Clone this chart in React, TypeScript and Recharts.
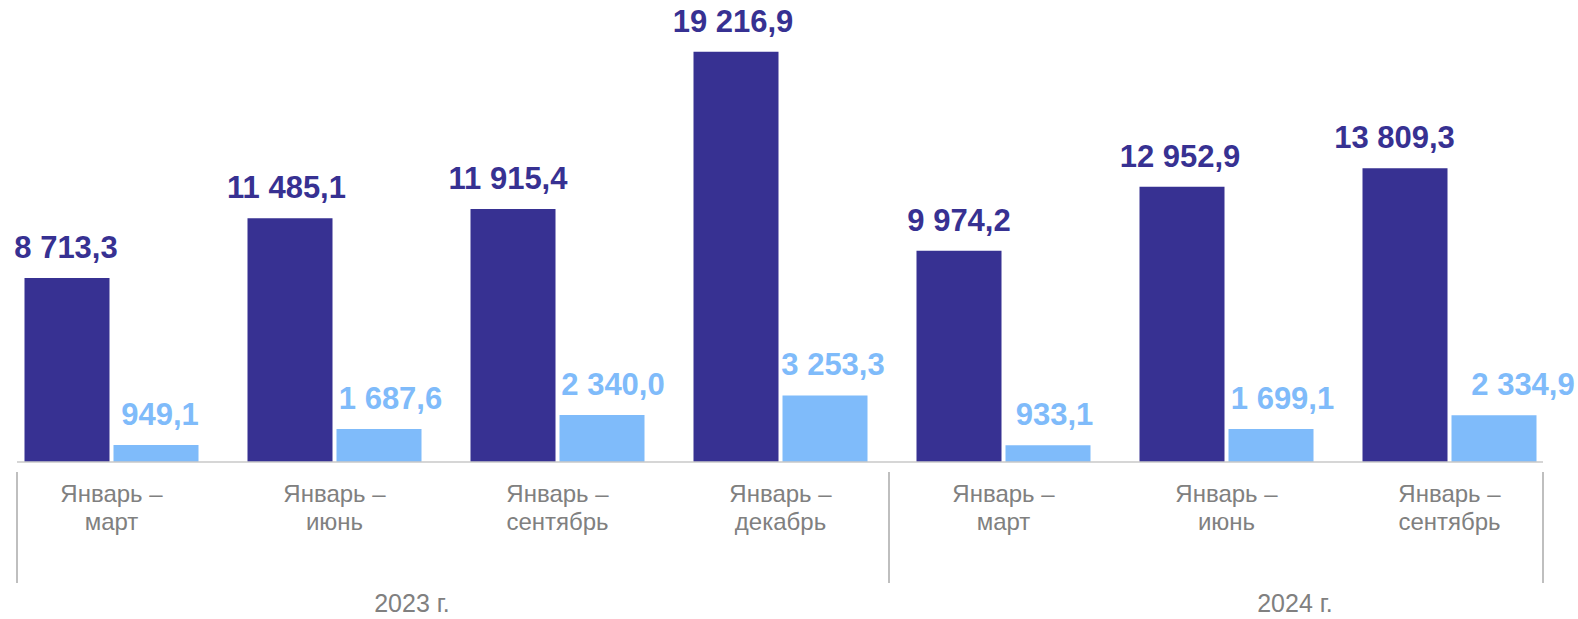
import React from "react";
import { BarChart, Bar, XAxis, YAxis, LabelList } from "recharts";

const periods = [
  "Январь – март",
  "Январь – июнь",
  "Январь – сентябрь",
  "Январь – декабрь",
  "Январь – март",
  "Январь – июнь",
  "Январь – сентябрь",
];
const totalValues = [8713.3, 11485.1, 11915.4, 19216.9, 9974.2, 12952.9, 13809.3];
const partValues = [949.1, 1687.6, 2340.0, 3253.3, 933.1, 1699.1, 2334.9];
const years = ["2023 г.", "2024 г."];

// label nudges (px) seen in the picture, labels were hand-placed
const totalNudge = [-1, -3.5, -5, -3, 0, -2, -10.5];
const partNudge = [4, 11.5, 11, 8, 6.5, 11.5, 29];

const DARK = "#373192";
const LIGHT = "#7fbbfa";
const GREY = "#808080";
const FONT = "'Liberation Sans', Arial, sans-serif";

const data = periods.map((p, i) => ({
  period: p,
  total: totalValues[i],
  part: partValues[i],
}));

const fmt = (v: number) => {
  const [int, dec] = v.toFixed(1).split(".");
  return int.replace(/\B(?=(\d{3})+(?!\d))/g, " ") + "," + dec;
};

const makeLabel = (color: string, nudge: number[]) => (props: any) => {
  const { x, y, width, value, index } = props;
  return (
    <text
      x={Number(x) + Number(width) / 2 + (nudge[index] || 0)}
      y={Number(y) - 20}
      textAnchor="middle"
      fill={color}
      fontFamily={FONT}
      fontWeight="bold"
      fontSize={31}
    >
      {fmt(Number(value))}
    </text>
  );
};

const PeriodTick = (props: any) => {
  const { x, y, payload } = props;
  const [a, b] = String(payload.value).split(" – ");
  return (
    <g>
      <text x={x} y={y + 40} textAnchor="middle" fill={GREY} fontFamily={FONT} fontSize={24}>
        {a + " –"}
      </text>
      <text x={x} y={y + 67.5} textAnchor="middle" fill={GREY} fontFamily={FONT} fontSize={24}>
        {b}
      </text>
    </g>
  );
};

export default function App() {
  return (
    <div style={{ position: "absolute", left: 0, top: 0, width: 1578, height: 619, background: "#fff" }}>
      <BarChart
        width={1578}
        height={619}
        data={data}
        margin={{ top: 35, right: 17, bottom: 0, left: 0 }}
        barCategoryGap={24.5}
        barGap={4}
      >
        <XAxis
          dataKey="period"
          axisLine={false}
          tickLine={false}
          tickSize={0}
          tickMargin={0}
          height={157}
          interval={0}
          tick={<PeriodTick />}
        />
        <YAxis hide domain={[160, 20000]} allowDataOverflow />
        <Bar dataKey="total" fill={DARK} isAnimationActive={false}>
          <LabelList dataKey="total" content={makeLabel(DARK, totalNudge)} />
        </Bar>
        <Bar dataKey="part" fill={LIGHT} isAnimationActive={false}>
          <LabelList dataKey="part" content={makeLabel(LIGHT, partNudge)} />
        </Bar>
      </BarChart>
      <svg
        width={1578}
        height={619}
        style={{ position: "absolute", left: 0, top: 0, pointerEvents: "none" }}
      >
        <line x1={17} x2={1543} y1={462} y2={462} stroke="#c8c8c8" strokeWidth={1.5} />
        <line x1={17} x2={17} y1={472} y2={583} stroke="#bfbfbf" strokeWidth={2} />
        <line x1={889} x2={889} y1={472} y2={583} stroke="#bfbfbf" strokeWidth={2} />
        <line x1={1543} x2={1543} y1={472} y2={583} stroke="#bfbfbf" strokeWidth={2} />
        <text x={412} y={612} textAnchor="middle" fill={GREY} fontFamily={FONT} fontSize={25}>
          {years[0]}
        </text>
        <text x={1295} y={612} textAnchor="middle" fill={GREY} fontFamily={FONT} fontSize={25}>
          {years[1]}
        </text>
      </svg>
    </div>
  );
}
